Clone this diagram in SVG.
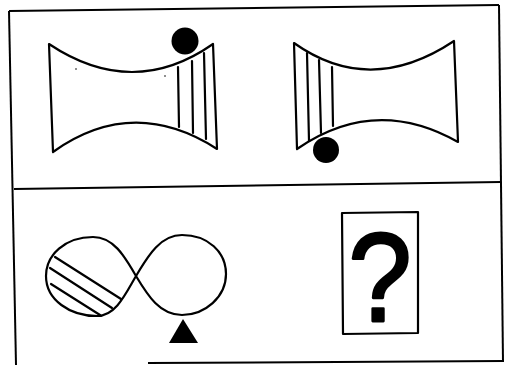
<svg xmlns="http://www.w3.org/2000/svg" width="512" height="365" viewBox="0 0 512 365">
<style>
.ln{fill:none;stroke:#000;stroke-width:2.2;stroke-linecap:round;stroke-linejoin:round}
.fr{fill:none;stroke:#000;stroke-width:2}
.blk{fill:#000}
</style>
<rect width="512" height="365" fill="#fff"/>
<g id="frame">
<line class="fr" x1="9" y1="11" x2="499" y2="5"/>
<line class="fr" x1="9" y1="11" x2="16" y2="365"/>
<line class="fr" x1="499" y1="5" x2="503" y2="362"/>
<line class="fr" x1="14" y1="189" x2="501" y2="182"/>
<line class="fr" x1="148" y1="363" x2="503" y2="361"/>
</g>
<g id="shape1">
<path class="ln" d="M49,44 Q133,100 213,44 L217,149 Q133,95 53,152 Z"/>
<line class="ln" x1="178" y1="67" x2="179" y2="127"/>
<line class="ln" x1="192" y1="61" x2="193" y2="133"/>
<line class="ln" x1="204" y1="53" x2="206" y2="139"/>
<circle class="blk" cx="185" cy="41" r="13.5"/>
<circle class="blk" cx="76" cy="69" r="0.8"/>
<circle class="blk" cx="165" cy="76" r="0.8"/>
</g>
<g id="shape2">
<path class="ln" d="M294,43 Q370,97 454,41 L458,142 Q375,95 297,149 Z"/>
<line class="ln" x1="307" y1="53" x2="309" y2="141"/>
<line class="ln" x1="319" y1="60" x2="321" y2="133"/>
<line class="ln" x1="332" y1="67" x2="333" y2="126"/>
<circle class="blk" cx="326" cy="150" r="13"/>
</g>
<g id="eight">
<path class="ln" d="M136,276 C124,255 113,237 93,237 C65,237 46,255 46,276 C46,300 70,316 97,316 C116,316 126,293 136,276 C148,256 160,235 182,235 C208,235 226,252 226,274 C226,297 205,315 182,315 C160,315 148,296 136,276 Z"/>
<line class="ln" x1="55" y1="257" x2="121" y2="299"/>
<line class="ln" x1="50" y1="268" x2="112" y2="308"/>
<line class="ln" x1="51" y1="284" x2="100" y2="315"/>
<polygon class="blk" points="183,319 169,343 198,343"/>
</g>
<g id="question">
<path class="ln" d="M342,213 L418,212 L418,333 L343,334 Z"/>
<text transform="translate(380,321) scale(1,1.1)" font-family="Liberation Sans, Arial, sans-serif" font-size="114" text-anchor="middle" stroke="#000" stroke-width="2.5" stroke-linejoin="round">?</text>
</g>
</svg>
